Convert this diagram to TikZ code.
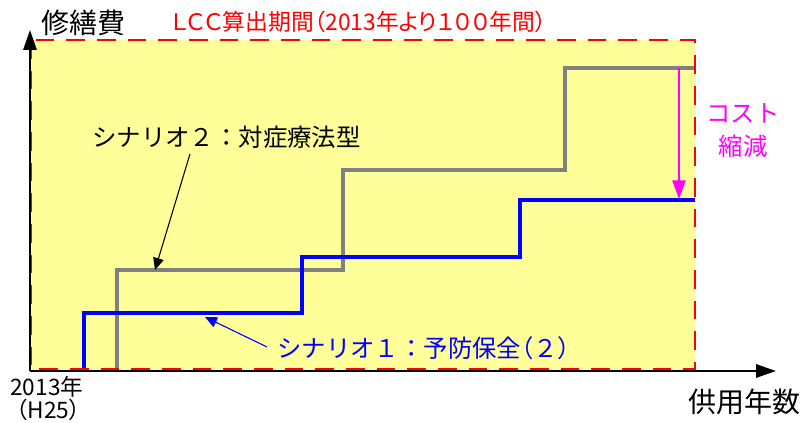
\documentclass[tikz,border=0pt]{standalone}
\usepackage{fontspec}
\setmainfont{Noto Sans CJK JP}
\newfontfamily\propjp[RawFeature=+palt]{Noto Sans CJK JP}
\usetikzlibrary{arrows.meta}
\definecolor{bgyellow}{HTML}{FFFF99}
\definecolor{lccred}{HTML}{FF0000}
\definecolor{s1blue}{HTML}{0000FF}
\definecolor{s2gray}{HTML}{808080}
\definecolor{cutmag}{HTML}{FF00FF}
\tikzset{
  axisline/.style={line width=1.5pt,-{Triangle[length=15pt,width=10pt]}},
  stepblue/.style={draw=s1blue,line width=3pt},
  stepgray/.style={draw=s2gray,line width=3pt},
  lbl/.style={inner sep=0pt,font=\fontsize{18.3}{20}\selectfont},
  pointer/.style={line width=0.8pt,-{Triangle[length=9pt,width=8pt]}},
}
\begin{document}
\begin{tikzpicture}[x=0.75pt,y=-0.75pt]
\useasboundingbox (0,0) rectangle (807,423);
% period area
\fill[bgyellow] (30,40) rectangle (695,370);
% steps
\draw[stepgray] (117,370) -- (117,270) -- (343,270) -- (343,170) -- (565,170) -- (565,68) -- (695,68);
\draw[stepblue] (84,370) -- (84,313) -- (302,313) -- (302,257) -- (520,257) -- (520,200) -- (695,200);
% dashed border
\draw[lccred,line width=2pt,dash pattern=on 14pt off 9pt] (31,40) rectangle (695,369);
% axes
\coordinate (o) at (30,371);
\coordinate (ytip) at (30,30);
\coordinate (xtip) at (776,371);
\draw[axisline] (o) -- (ytip);
\draw[axisline] (o) -- (xtip);
% labels
\node[lbl,anchor=west,font=\fontsize{21}{23}\selectfont] (cost) at (41,23) {修繕費};
\node[lbl,anchor=west,text=lccred,font=\propjp\fontsize{17.1}{19}\selectfont] (lcc) at (172,22) {ＬＣＣ算出期間（2013年より１００年間）};
\node[lbl,anchor=west,font=\fontsize{17}{19}\selectfont] (y0) at (10,387) {2013年};
\node[lbl,anchor=west,font=\propjp\fontsize{17}{19}\selectfont] (y0b) at (16,410) {（H25）};
\node[lbl,anchor=east,font=\fontsize{21}{23}\selectfont] (xl) at (801,402) {供用年数};
\node[lbl,text=cutmag] (cut1) at (743,113) {コスト};
\node[lbl,text=cutmag] (cut2) at (743,146) {縮減};
\node[lbl,anchor=west] (s2) at (92,137) {シナリオ２：対症療法型};
\node[lbl,anchor=west,text=s1blue] (s1) at (277,348) {シナリオ１：予防保全{\propjp（}２{\propjp）}};
% pointers
\coordinate (s2a) at (190,154);
\coordinate (s2b) at (155,270);
\draw[pointer] (s2a) -- (s2b);
\coordinate (s1a) at (267,347);
\coordinate (s1b) at (205,317);
\draw[pointer,draw=s1blue,fill=s1blue] (s1a) -- (s1b);
\coordinate (ca) at (679,68);
\coordinate (cb) at (679,199);
\draw[cutmag,line width=1.2pt,-{Triangle[length=14pt,width=10pt]}] (ca) -- (cb);
\end{tikzpicture}
\end{document}
